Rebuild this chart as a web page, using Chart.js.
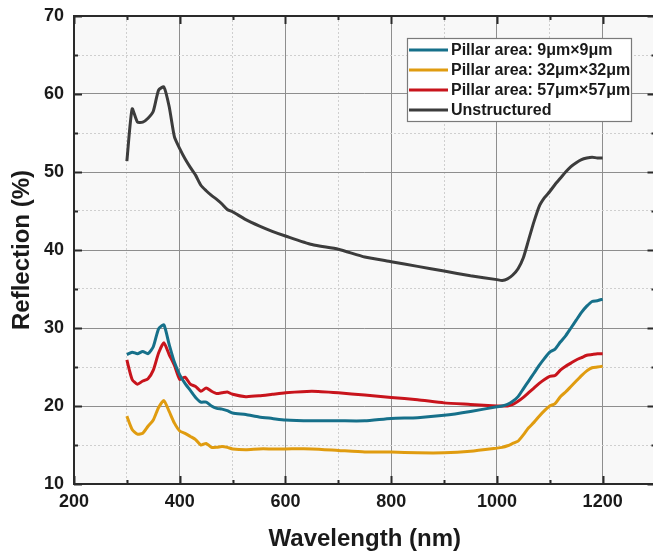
<!DOCTYPE html>
<html>
<head>
<meta charset="utf-8">
<script src="https://cdn.jsdelivr.net/npm/chart.js@4.4.1/dist/chart.umd.min.js"></script>
<style>
  html, body { margin: 0; padding: 0; background: #fff; overflow: hidden; width: 653px; height: 555px; }
  canvas { display: block; }
</style>
</head>
<body>
<canvas id="reflChart" width="656" height="555"></canvas>
<script>
// wavelength (nm)
const wavelengths = [300, 310, 320, 330, 340, 350, 360, 370, 380, 390, 400, 410, 420, 430, 440, 450, 460, 470, 480, 490,
  500, 525, 550, 575, 600, 650, 700, 750, 800, 850, 900, 950, 1000, 1010, 1020, 1030, 1040, 1050, 1060, 1070,
  1080, 1090, 1100, 1110, 1120, 1130, 1140, 1150, 1160, 1170, 1180, 1190, 1200];

// reflection (%)
const pillar9 = [26.6, 26.9, 26.7, 27.0, 26.7, 27.6, 29.9, 30.4, 27.9, 25.6, 24.0, 22.9, 22.0, 21.1, 20.5, 20.5, 20.0, 19.7, 19.6, 19.4,
  19.1, 18.9, 18.6, 18.4, 18.2, 18.1, 18.1, 18.1, 18.4, 18.5, 18.8, 19.3, 19.9, 20.0, 20.2, 20.6, 21.2, 22.2, 23.2, 24.2,
  25.2, 26.1, 26.9, 27.3, 28.2, 29.0, 30.0, 31.0, 32.0, 32.8, 33.4, 33.5, 33.7];
const pillar32 = [18.7, 17.0, 16.4, 16.5, 17.4, 18.2, 19.8, 20.7, 19.3, 17.8, 16.8, 16.5, 16.1, 15.7, 15.0, 15.2, 14.7, 14.7, 14.8, 14.7,
  14.5, 14.4, 14.5, 14.5, 14.5, 14.5, 14.3, 14.1, 14.1, 14.0, 14.0, 14.2, 14.6, 14.7, 14.9, 15.2, 15.5, 16.3, 17.2, 17.9,
  18.7, 19.4, 20.0, 20.3, 21.2, 21.8, 22.5, 23.2, 23.9, 24.5, 24.9, 25.0, 25.1];
const pillar57 = [25.9, 23.4, 22.8, 23.2, 23.5, 24.6, 26.8, 28.1, 26.6, 25.2, 23.4, 23.7, 22.8, 22.5, 21.9, 22.3, 21.9, 21.6, 21.7, 21.8,
  21.5, 21.2, 21.3, 21.5, 21.7, 21.9, 21.7, 21.4, 21.1, 20.8, 20.4, 20.2, 20.0, 20.0, 20.0, 20.2, 20.6, 21.1, 21.7, 22.3,
  22.9, 23.4, 23.8, 23.9, 24.6, 25.1, 25.5, 25.9, 26.2, 26.5, 26.6, 26.7, 26.7];
const unstructured = [51.4, 58.1, 56.4, 56.4, 56.9, 57.8, 60.5, 60.9, 58.4, 54.5, 53.0, 51.7, 50.6, 49.6, 48.3, 47.6, 47.0, 46.5, 45.9, 45.2,
  44.9, 43.9, 43.1, 42.4, 41.8, 40.7, 40.1, 39.1, 38.5, 37.9, 37.3, 36.7, 36.2, 36.1, 36.3, 36.8, 37.6, 39.0, 41.3, 43.6,
  45.6, 46.7, 47.5, 48.4, 49.2, 50.0, 50.7, 51.2, 51.6, 51.8, 51.9, 51.8, 51.8];

const seriesLabels = ['Pillar area: 9μm×9μm', 'Pillar area: 32μm×32μm', 'Pillar area: 57μm×57μm', 'Unstructured'];
const seriesColors = ['#16708a', '#e09c10', '#c8141c', '#3c3c3c'];
const xTickLabels = [200, 400, 600, 800, 1000, 1200];
const yTickLabels = [10, 20, 30, 40, 50, 60, 70];

const FONT = '"Liberation Sans", Arial, sans-serif';
const seriesValues = [pillar9, pillar32, pillar57, unstructured];

const toPoints = vals => wavelengths.map((w, i) => ({ x: w, y: vals[i] }));

// plot background, inward tick marks, frame and legend
const framePlugin = {
  id: 'frame',
  beforeDraw(chart) {
    const { ctx, chartArea: a } = chart;
    ctx.save();
    ctx.fillStyle = '#f8f8f8';
    ctx.fillRect(a.left, a.top, a.right - a.left, a.bottom - a.top);
    ctx.restore();
  },
  afterDraw(chart) {
    const { ctx, chartArea: a, scales } = chart;
    ctx.save();
    ctx.strokeStyle = '#2a2a2a';
    ctx.lineWidth = 2;
    scales.x.ticks.forEach(t => {
      const px = Math.round(scales.x.getPixelForValue(t.value)) + 0.5;
      const len = t.value % 200 === 0 ? 8 : 4;
      ctx.beginPath();
      ctx.moveTo(px, a.bottom); ctx.lineTo(px, a.bottom - len);
      ctx.moveTo(px, a.top); ctx.lineTo(px, a.top + len);
      ctx.stroke();
    });
    scales.y.ticks.forEach(t => {
      const py = Math.round(scales.y.getPixelForValue(t.value)) + 0.5;
      const len = t.value % 10 === 0 ? 8 : 4;
      ctx.beginPath();
      ctx.moveTo(a.left, py); ctx.lineTo(a.left + len, py);
      ctx.moveTo(a.right, py); ctx.lineTo(a.right - len, py);
      ctx.stroke();
    });
    ctx.strokeRect(a.left, a.top, a.right - a.left, a.bottom - a.top);

    // legend
    const lx = 407, ly = 38, lw = 224, lh = 83;
    ctx.fillStyle = '#ffffff';
    ctx.fillRect(lx, ly, lw, lh);
    ctx.strokeStyle = '#7a7a7a';
    ctx.lineWidth = 1.2;
    ctx.strokeRect(lx + 0.5, ly + 0.5, lw, lh);
    ctx.font = 'bold 16px ' + FONT;
    ctx.textBaseline = 'middle';
    ctx.fillStyle = '#1a1a1a';
    chart.data.datasets.forEach((ds, i) => {
      const y = ly + 12 + i * 20;
      ctx.strokeStyle = ds.borderColor;
      ctx.lineWidth = 3;
      ctx.beginPath();
      ctx.moveTo(lx + 2, y); ctx.lineTo(lx + 41, y);
      ctx.stroke();
      ctx.fillText(ds.label, lx + 44, y + 1);
    });
    ctx.restore();
  }
};

new Chart(document.getElementById('reflChart'), {
  type: 'line',
  data: {
    datasets: seriesValues.map((vals, i) => ({
      label: seriesLabels[i],
      data: toPoints(vals),
      borderColor: seriesColors[i],
      backgroundColor: seriesColors[i],
      borderWidth: 3,
      pointRadius: 0,
      tension: 0.2,
      fill: false
    }))
  },
  options: {
    responsive: false,
    animation: false,
    layout: { padding: { top: 16, right: 0.5, left: 0, bottom: 0 } },
    plugins: { legend: { display: false }, tooltip: { enabled: false } },
    scales: {
      x: {
        type: 'linear',
        min: 200,
        max: 1300,
        afterFit: s => { s.height = 71; s.paddingLeft = 0; s.paddingRight = 0; },
        ticks: {
          stepSize: 100,
          padding: 7,
          color: '#1a1a1a',
          font: { family: FONT, size: 18, weight: 'bold' },
          maxRotation: 0,
          autoSkip: false,
          callback: v => xTickLabels.includes(v) ? String(v) : ''
        },
        grid: {
          drawTicks: false,
          color: c => (c.tick && c.tick.value % 200 === 0) ? '#8e8e8e' : '#cfcfcf',
          lineWidth: 1
        },
        border: { display: false, dash: c => (c.tick && c.tick.value % 200 !== 0) ? [2, 2] : [] },
        title: {
          display: true,
          text: 'Wavelength (nm)',
          color: '#1a1a1a',
          font: { family: FONT, size: 24, weight: 'bold' },
          padding: { top: 0, bottom: 1 }
        }
      },
      y: {
        min: 10,
        max: 70,
        afterFit: s => { s.width = 74; s.paddingTop = 0; s.paddingBottom = 0; },
        ticks: {
          stepSize: 5,
          padding: 10,
          color: '#1a1a1a',
          font: { family: FONT, size: 18, weight: 'bold' },
          autoSkip: false,
          callback: v => yTickLabels.includes(v) ? String(v) : ''
        },
        grid: {
          drawTicks: false,
          color: c => (c.tick && c.tick.value % 10 === 0) ? '#8e8e8e' : '#cfcfcf',
          lineWidth: 1
        },
        border: { display: false, dash: c => (c.tick && c.tick.value % 10 !== 0) ? [2, 2] : [] },
        title: {
          display: true,
          text: 'Reflection (%)',
          color: '#1a1a1a',
          font: { family: FONT, size: 24, weight: 'bold' },
          padding: { top: 8, bottom: 0 }
        }
      }
    }
  },
  plugins: [framePlugin]
});
</script>
</body>
</html>
